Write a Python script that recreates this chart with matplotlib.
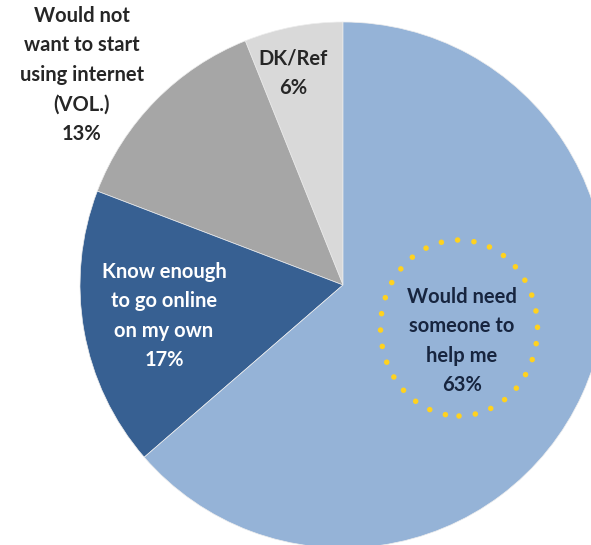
import matplotlib
matplotlib.use("Agg")
import matplotlib.pyplot as plt
from matplotlib.patches import Ellipse

# Data (counterclockwise from 12 o'clock)
categories = ["DK/Ref", "Would not\nwant to start\nusing internet\n(VOL.)", "Know enough\nto go online\non my own", "Would need\nsomeone to\nhelp me"]
values = [6, 13, 17, 63]
colors = ["#D9D9D9", "#A6A6A6", "#376092", "#95B3D7"]

W, H = 591, 545
fig = plt.figure(figsize=(W / 100, H / 100), dpi=100)
ax = fig.add_axes([0, 0, 1, 1])

cx, cy, R = 343, H - 285, 263
ax.pie(values, colors=colors, startangle=90, counterclock=True,
       center=(cx, cy), radius=R,
       wedgeprops=dict(linewidth=0.5, edgecolor="#EDEDED"))
ax.set_xlim(0, W)
ax.set_ylim(0, H)
ax.set_aspect("equal")
ax.axis("off")

font = ["Lato", "DejaVu Sans"]
kw = dict(ha="center", va="center", fontsize=14.5, fontweight="bold",
          family=font, linespacing=1.6)

ax.text(82, H - 75, f"{categories[1]}\n{values[1]}%", color="#262626", **kw)
ax.text(293, H - 73, f"{categories[0]}\n{values[0]}%", color="#262626", **kw)
ax.text(164, H - 316, f"{categories[2]}\n{values[2]}%", color="white", **kw)
ax.text(462, H - 341, f"{categories[3]}\n{values[3]}%", color="#17253F", **kw)

ell = Ellipse((459, H - 328), 157, 176, fill=False, edgecolor="#FFD21F",
              linewidth=4.0, linestyle=(0, (0.01, 2.95)))
ell.set_capstyle("round")
ax.add_patch(ell)

fig.savefig("out.png", dpi=100)
